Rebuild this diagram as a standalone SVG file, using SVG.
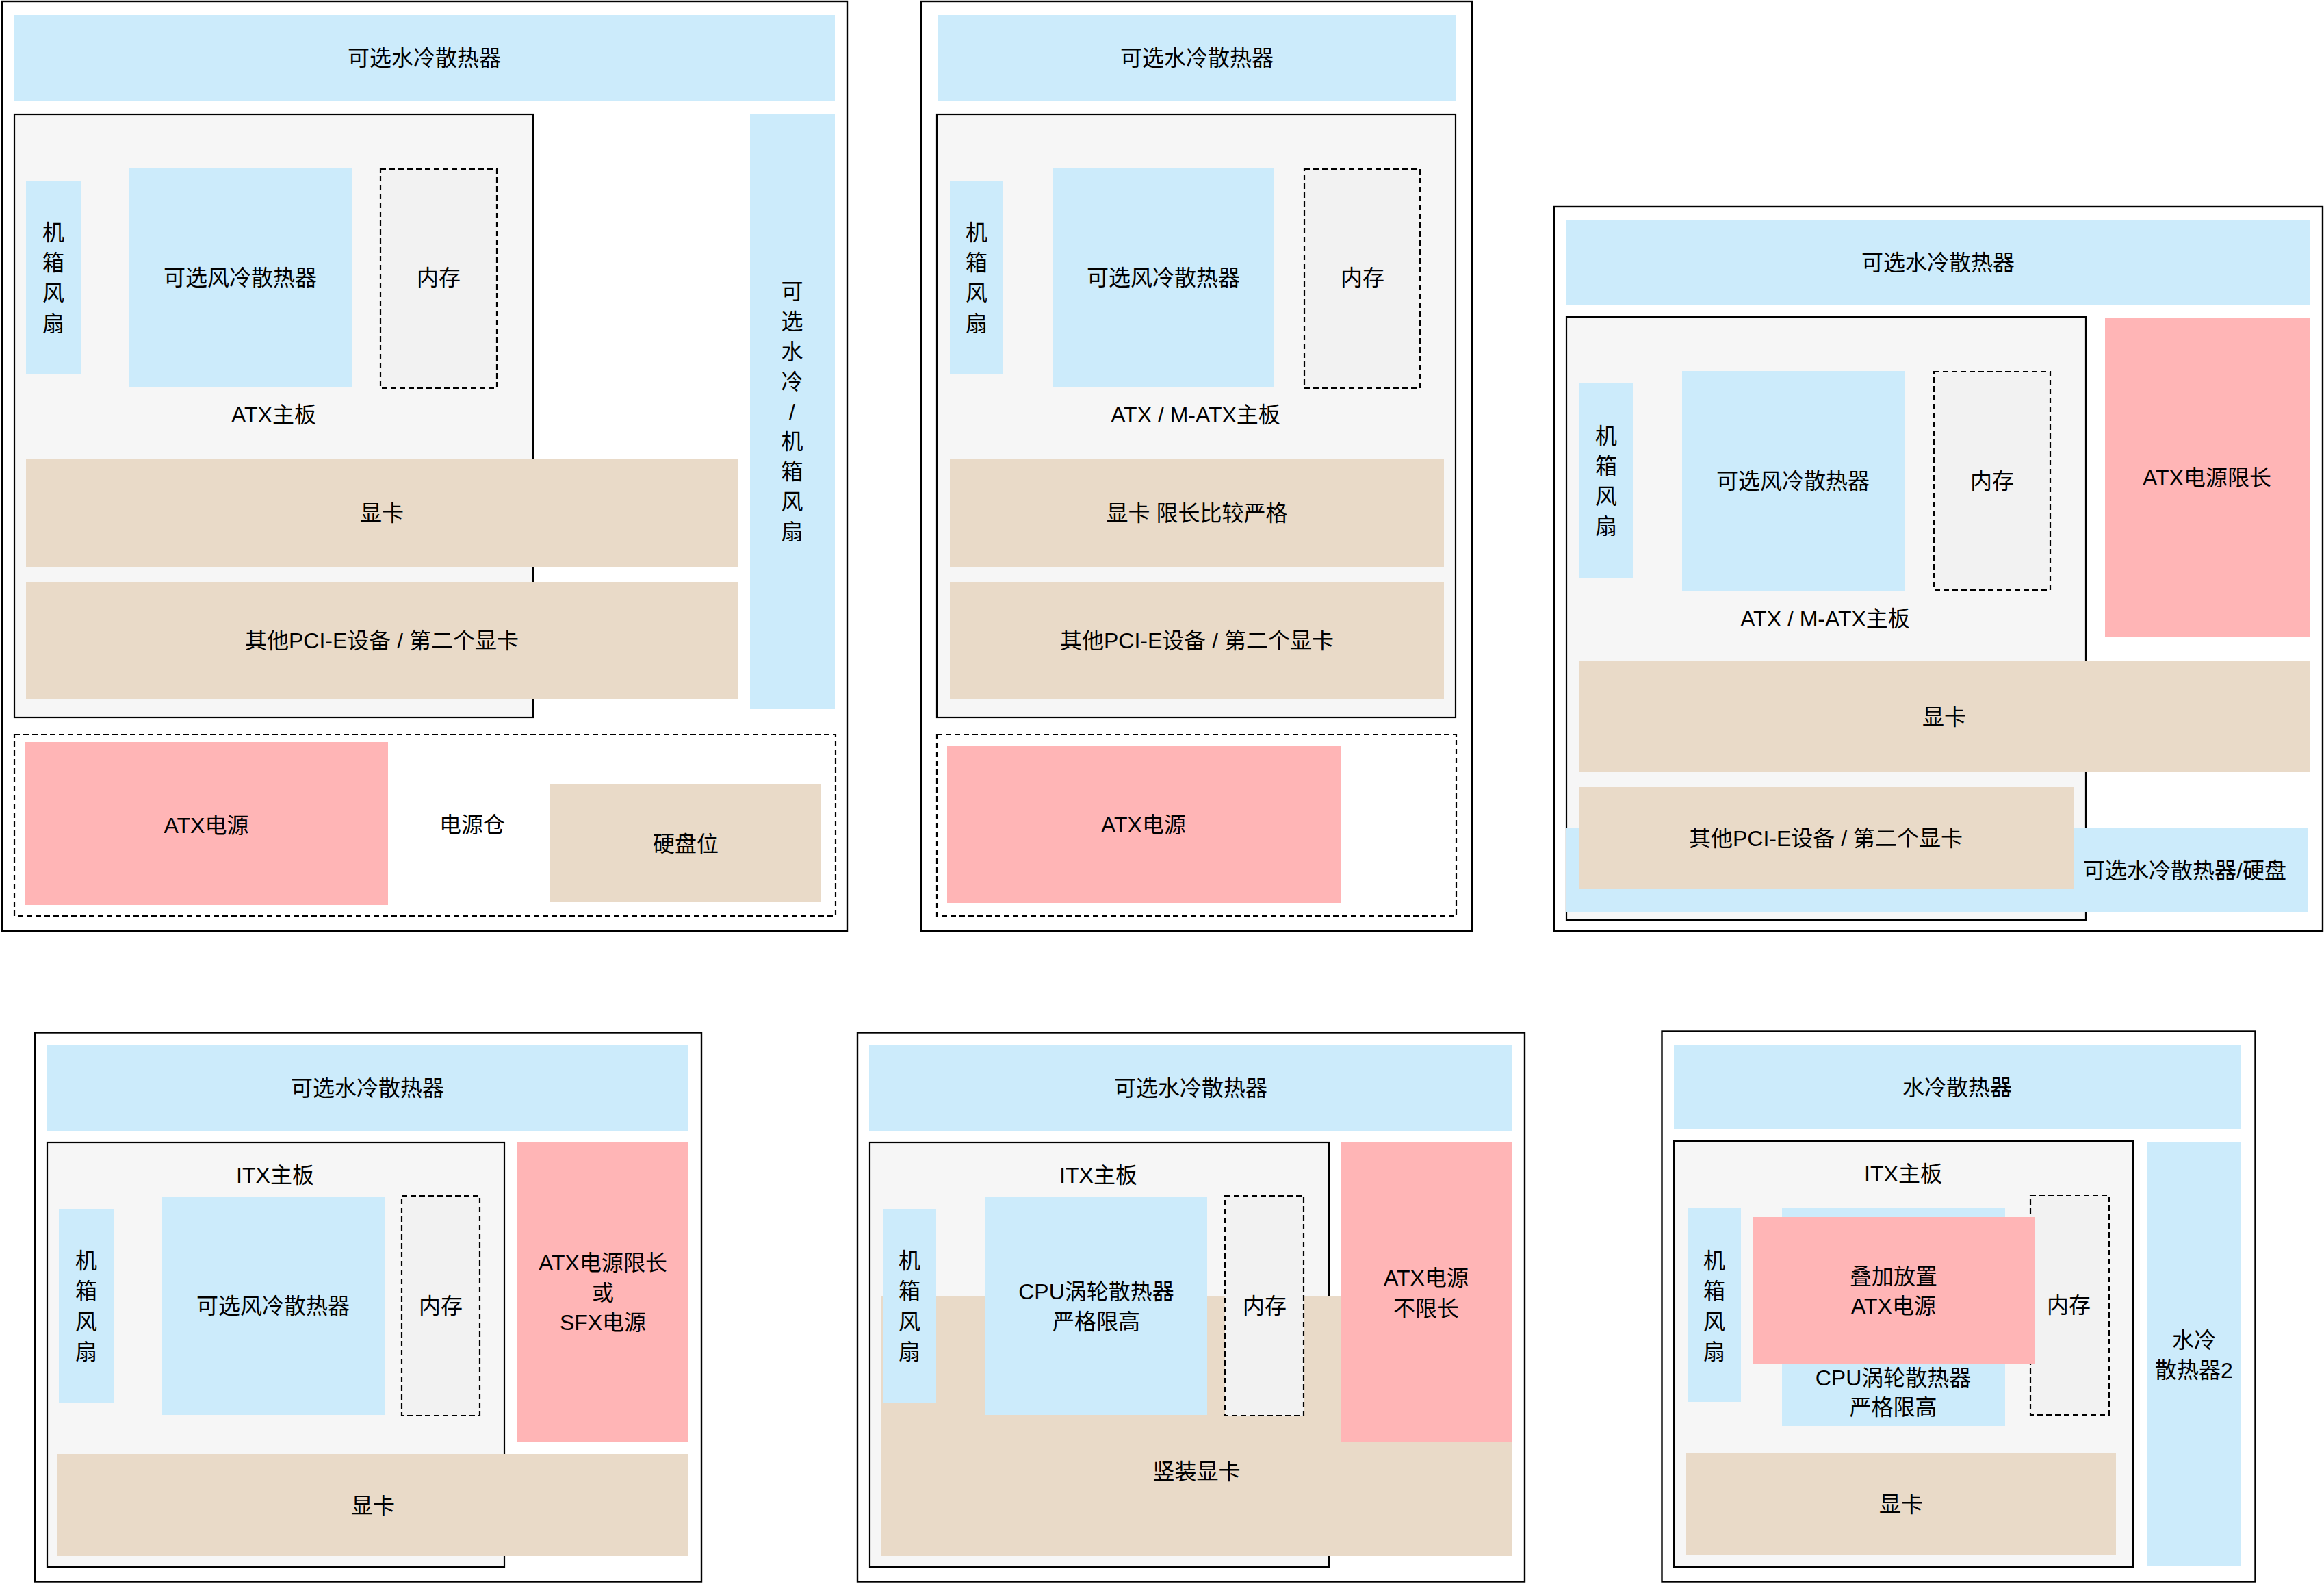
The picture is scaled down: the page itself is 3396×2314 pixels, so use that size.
<svg xmlns="http://www.w3.org/2000/svg" width="3396" height="2314" viewBox="0 0 3396 2314">
<style>
.bg{fill:#ffffff}
.case{fill:#ffffff;stroke:#000;stroke-width:2.4}
.blue{fill:#CCEBFB}
.tan{fill:#E9DAC8}
.pink{fill:#FFB5B6}
.mb{fill:#F6F6F6;stroke:#000;stroke-width:2.2}
.mem{fill:#F2F2F2;stroke:#000;stroke-width:2.2;stroke-dasharray:8 5}
.bay{fill:none;stroke:#000;stroke-width:2.2;stroke-dasharray:8 5}
text{font-family:"Liberation Sans","Noto Sans CJK SC",sans-serif;font-size:32px;fill:#000;text-anchor:middle}
</style>
<rect class="bg" x="0" y="0" width="3396" height="2314"/>
<g id="connectors"/>

<!-- Panel 1 -->
<g id="panel1">
  <g id="p1-case"><rect class="case" x="3" y="2" width="1235" height="1358"/></g>
  <g id="p1-water"><rect class="blue" x="20" y="22" width="1200" height="125"/><text x="620" y="96">可选水冷散热器</text></g>
  <g id="p1-mb"><rect class="mb" x="21" y="167" width="758" height="881"/><text x="400" y="617">ATX主板</text></g>
  <g id="p1-fan"><rect class="blue" x="38" y="264" width="80" height="283"/>
    <text x="78" y="350.5">机</text><text x="78" y="394.9">箱</text><text x="78" y="439.2">风</text><text x="78" y="483.5">扇</text></g>
  <g id="p1-cooler"><rect class="blue" x="188" y="246" width="326" height="319"/><text x="351" y="417.4">可选风冷散热器</text></g>
  <g id="p1-mem"><rect class="mem" x="556" y="247" width="170" height="320"/><text x="641" y="417">内存</text></g>
  <g id="p1-gpu"><rect class="tan" x="38" y="670" width="1040" height="159"/><text x="558" y="761">显卡</text></g>
  <g id="p1-pcie"><rect class="tan" x="38" y="850" width="1040" height="171"/><text x="558" y="947" xml:space="preserve">其他PCI-E设备 / 第二个显卡</text></g>
  <g id="p1-side"><rect class="blue" x="1096" y="166" width="124" height="870"/>
    <text x="1157.5" y="436.9">可</text><text x="1157.5" y="480.8">选</text><text x="1157.5" y="524.7">水</text><text x="1157.5" y="568.6">冷</text><text x="1157.5" y="612.5">/</text><text x="1157.5" y="656.4">机</text><text x="1157.5" y="700.3">箱</text><text x="1157.5" y="744.2">风</text><text x="1157.5" y="788.1">扇</text></g>
  <g id="p1-bay"><rect class="bay" x="21" y="1073" width="1200" height="265"/><text x="690" y="1216">电源仓</text></g>
  <g id="p1-psu"><rect class="pink" x="36" y="1084" width="531" height="238"/><text x="301.5" y="1216.5">ATX电源</text></g>
  <g id="p1-hdd"><rect class="tan" x="804" y="1146" width="396" height="171"/><text x="1002" y="1243.5">硬盘位</text></g>
</g>

<!-- Panel 2 -->
<g id="panel2">
  <g id="p2-case"><rect class="case" x="1346" y="2" width="805" height="1358"/></g>
  <g id="p2-water"><rect class="blue" x="1370" y="22" width="758" height="125"/><text x="1749" y="96">可选水冷散热器</text></g>
  <g id="p2-mb"><rect class="mb" x="1369" y="167" width="758" height="881"/><text x="1747" y="617">ATX / M-ATX主板</text></g>
  <g id="p2-fan"><rect class="blue" x="1388" y="264" width="78" height="283"/>
    <text x="1427" y="350.5">机</text><text x="1427" y="394.9">箱</text><text x="1427" y="439.2">风</text><text x="1427" y="483.5">扇</text></g>
  <g id="p2-cooler"><rect class="blue" x="1538" y="246" width="324" height="319"/><text x="1700" y="417.4">可选风冷散热器</text></g>
  <g id="p2-mem"><rect class="mem" x="1906" y="247" width="169" height="320"/><text x="1991" y="417">内存</text></g>
  <g id="p2-gpu"><rect class="tan" x="1388" y="670" width="722" height="159"/><text x="1749" y="761" xml:space="preserve">显卡 限长比较严格</text></g>
  <g id="p2-pcie"><rect class="tan" x="1388" y="850" width="722" height="171"/><text x="1749" y="947" xml:space="preserve">其他PCI-E设备 / 第二个显卡</text></g>
  <g id="p2-bay"><rect class="bay" x="1369" y="1073" width="759" height="265"/></g>
  <g id="p2-psu"><rect class="pink" x="1384" y="1090" width="576" height="229"/><text x="1671" y="1216">ATX电源</text></g>
</g>

<!-- Panel 3 -->
<g id="panel3">
  <g id="p3-case"><rect class="case" x="2271" y="302" width="1123" height="1058"/></g>
  <g id="p3-water"><rect class="blue" x="2289" y="321" width="1086" height="124"/><text x="2832" y="395">可选水冷散热器</text></g>
  <g id="p3-mb"><rect class="mb" x="2289" y="463" width="759" height="881"/><text x="2667" y="914.5">ATX / M-ATX主板</text></g>
  <g id="p3-fan"><rect class="blue" x="2308" y="560" width="78" height="285"/>
    <text x="2347" y="647.5">机</text><text x="2347" y="691.5">箱</text><text x="2347" y="735.5">风</text><text x="2347" y="779.5">扇</text></g>
  <g id="p3-cooler"><rect class="blue" x="2458" y="542" width="325" height="321"/><text x="2620" y="714">可选风冷散热器</text></g>
  <g id="p3-mem"><rect class="mem" x="2826" y="543" width="170" height="319"/><text x="2911" y="714">内存</text></g>
  <g id="p3-psu"><rect class="pink" x="3076" y="464" width="299" height="467"/><text x="3225" y="709">ATX电源限长</text></g>
  <g id="p3-gpu"><rect class="tan" x="2308" y="966" width="1067" height="162"/><text x="2841" y="1058.5">显卡</text></g>
  <g id="p3-bottom"><rect class="blue" x="2289" y="1210" width="1083" height="123"/><text x="3192.5" y="1283">可选水冷散热器/硬盘</text></g>
  <g id="p3-pcie"><rect class="tan" x="2308" y="1150" width="722" height="149"/><text x="2668" y="1236" xml:space="preserve">其他PCI-E设备 / 第二个显卡</text></g>
</g>

<!-- Panel 4 -->
<g id="panel4">
  <g id="p4-case"><rect class="case" x="51" y="1508.5" width="974" height="802"/></g>
  <g id="p4-water"><rect class="blue" x="68" y="1526" width="938" height="126"/><text x="537" y="1600.5">可选水冷散热器</text></g>
  <g id="p4-mb"><rect class="mb" x="69" y="1669" width="668" height="620"/><text x="402" y="1727.5">ITX主板</text></g>
  <g id="p4-fan"><rect class="blue" x="86" y="1766" width="80" height="283"/>
    <text x="126" y="1853">机</text><text x="126" y="1897.3">箱</text><text x="126" y="1941.6">风</text><text x="126" y="1985.9">扇</text></g>
  <g id="p4-cooler"><rect class="blue" x="236" y="1748" width="326" height="319"/><text x="399" y="1918.5">可选风冷散热器</text></g>
  <g id="p4-mem"><rect class="mem" x="587" y="1747" width="114" height="321"/><text x="644" y="1918.5">内存</text></g>
  <g id="p4-psu"><rect class="pink" x="756" y="1668" width="250" height="439"/>
    <text x="881" y="1856">ATX电源限长</text><text x="881" y="1899.5">或</text><text x="881" y="1943">SFX电源</text></g>
  <g id="p4-gpu"><rect class="tan" x="84" y="2124" width="922" height="149"/><text x="545" y="2210.5">显卡</text></g>
</g>

<!-- Panel 5 -->
<g id="panel5">
  <g id="p5-case"><rect class="case" x="1253" y="1508.5" width="975" height="802"/></g>
  <g id="p5-water"><rect class="blue" x="1270" y="1526" width="940" height="126"/><text x="1740" y="1600.5">可选水冷散热器</text></g>
  <g id="p5-mb"><rect class="mb" x="1271" y="1669" width="671" height="620"/><text x="1605" y="1727.5">ITX主板</text></g>
  <g id="p5-gpu"><rect class="tan" x="1288" y="1894" width="922" height="379"/><text x="1748.5" y="2161">竖装显卡</text></g>
  <g id="p5-fan"><rect class="blue" x="1290" y="1766" width="78" height="283"/>
    <text x="1329" y="1853">机</text><text x="1329" y="1897.3">箱</text><text x="1329" y="1941.6">风</text><text x="1329" y="1985.9">扇</text></g>
  <g id="p5-cooler"><rect class="blue" x="1440" y="1748" width="324" height="319"/>
    <text x="1602" y="1897.5">CPU涡轮散热器</text><text x="1602" y="1942">严格限高</text></g>
  <g id="p5-mem"><rect class="mem" x="1790" y="1747" width="115" height="321"/><text x="1848" y="1919">内存</text></g>
  <g id="p5-psu"><rect class="pink" x="1960" y="1668" width="250" height="439"/>
    <text x="2084" y="1878">ATX电源</text><text x="2084" y="1922.5">不限长</text></g>
</g>

<!-- Panel 6 -->
<g id="panel6">
  <g id="p6-case"><rect class="case" x="2428.5" y="1506.5" width="867" height="804"/></g>
  <g id="p6-water"><rect class="blue" x="2446" y="1526" width="828" height="124"/><text x="2860" y="1599.5">水冷散热器</text></g>
  <g id="p6-mb"><rect class="mb" x="2446" y="1667" width="671" height="622"/><text x="2781" y="1725.5">ITX主板</text></g>
  <g id="p6-fan"><rect class="blue" x="2466" y="1764" width="78" height="284"/>
    <text x="2505" y="1853">机</text><text x="2505" y="1897.3">箱</text><text x="2505" y="1941.6">风</text><text x="2505" y="1985.9">扇</text></g>
  <g id="p6-cooler"><rect class="blue" x="2604" y="1764" width="326" height="319"/>
    <text x="2766.5" y="2024">CPU涡轮散热器</text><text x="2766.5" y="2067">严格限高</text></g>
  <g id="p6-mem"><rect class="mem" x="2967" y="1746" width="115" height="321"/><text x="3023" y="1917.5">内存</text></g>
  <g id="p6-psu"><rect class="pink" x="2562" y="1778" width="412" height="215"/>
    <text x="2767" y="1876">叠加放置</text><text x="2767" y="1919">ATX电源</text></g>
  <g id="p6-gpu"><rect class="tan" x="2464" y="2122" width="628" height="150"/><text x="2778" y="2209">显卡</text></g>
  <g id="p6-water2"><rect class="blue" x="3138" y="1668" width="136" height="620"/>
    <text x="3206" y="1968.5">水冷</text><text x="3206" y="2012.5">散热器2</text></g>
</g>
</svg>
